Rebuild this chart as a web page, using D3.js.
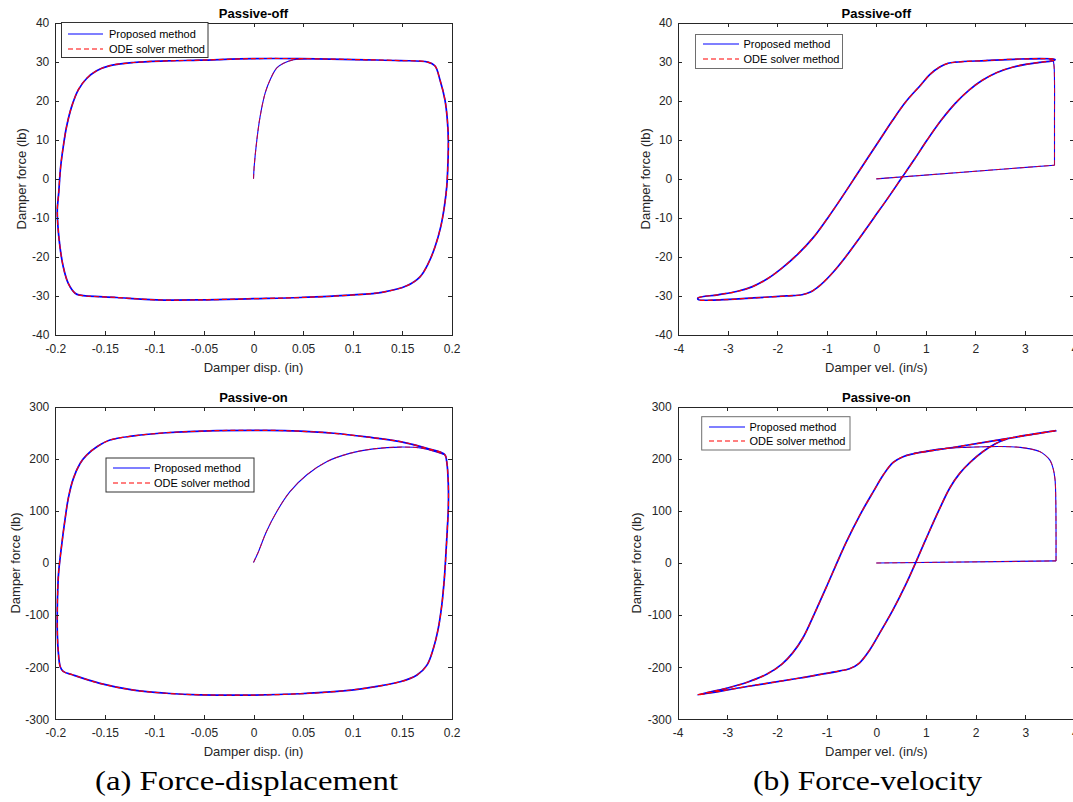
<!DOCTYPE html>
<html>
<head>
<meta charset="utf-8">
<script src="https://cdn.jsdelivr.net/npm/d3@7"></script>
<style>
  html, body { margin: 0; padding: 0; background: #fff; }
  svg { display: block; }
  .tick text { font-family: "Liberation Sans", Arial, sans-serif; font-size: 12px; fill: #262626; }
  .lbl { font-family: "Liberation Sans", Arial, sans-serif; font-size: 13px; fill: #262626; }
  .ttl { font-family: "Liberation Sans", Arial, sans-serif; font-size: 13px; font-weight: bold; fill: #000; }
  .leg { font-family: "Liberation Sans", Arial, sans-serif; font-size: 11px; fill: #000; }
  .cap { font-family: "Liberation Serif", "Times New Roman", serif; font-size: 28px; fill: #000; }
</style>
</head>
<body>
<svg id="fig" width="1073" height="802"></svg>
<script>
// ---- tick values ----
const dispTicks = [-0.2, -0.15, -0.1, -0.05, 0, 0.05, 0.1, 0.15, 0.2];
const velTicks = [-4, -3, -2, -1, 0, 1, 2, 3, 4];
const offForceTicks = [-40, -30, -20, -10, 0, 10, 20, 30, 40];
const onForceTicks = [-300, -200, -100, 0, 100, 200, 300];

// ---- series names ----
const seriesNames = ["Proposed method", "ODE solver method"];

// ---- Passive-off, force vs displacement (in, lb) ----
const offDispLoop = [
  [-0.198,-8],[-0.1966,-3.7],[-0.1946,3.1],[-0.192,8.2],[-0.1886,13.4],[-0.1835,18.5],
  [-0.1768,22.8],[-0.1684,25.7],[-0.1583,27.7],[-0.1448,29.0],[-0.121,29.8],[-0.088,30.2],
  [-0.054,30.4],[0,30.8],[0.047,30.8],[0.114,30.5],[0.148,30.3],[0.176,29.9],[0.1832,28.9],
  [0.1882,25.3],[0.1932,20.2],[0.1956,15.1],[0.1966,9.9],[0.1963,4.8],[0.195,-2.0],
  [0.1926,-7.1],[0.1889,-12.3],[0.1832,-17.4],[0.1765,-21.6],[0.168,-25.1],[0.1546,-27.4],
  [0.131,-29.0],[0.097,-29.8],[0.047,-30.4],[0,-30.7],[-0.054,-31.0],[-0.098,-31.0],
  [-0.138,-30.4],[-0.175,-29.8],[-0.180,-29.3],[-0.1869,-26.8],[-0.192,-22.5],
  [-0.1953,-17.4],[-0.1973,-12.3]
];
const offDispRamp = [];
const offDispRise = [
  [0,0],[0.0007,3.2],[0.0034,10],[0.0067,16],[0.0118,22],[0.0168,25.4],[0.0235,28.4],
  [0.0303,29.6],[0.0404,30.5],[0.0538,30.8]
];

// ---- Passive-off, force vs velocity (in/s, lb) ----
const offVelLoop = [
  [3.61,30.6],[2.9,30.7],[2.2,30.3],[1.6,29.9],[1.45,29.6],[1.29,28.7],[1.08,26.7],
  [0.88,23.8],[0.6,19.8],[0.33,15],[0.07,10],[-0.19,5],[-0.45,0],[-0.71,-5],[-0.98,-10],
  [-1.27,-15],[-1.58,-19.2],[-1.9,-22.8],[-2.2,-25.6],[-2.5,-27.6],[-2.8,-28.8],[-3.2,-29.7],
  [-3.6,-30.5],[-3.6,-30.9],[-3.16,-31.0],[-2.48,-30.5],[-1.81,-30.0],[-1.5,-29.7],
  [-1.33,-29.0],[-1.13,-27.2],[-0.9,-24.3],[-0.62,-20],[-0.33,-15],[-0.05,-10],[0.23,-5],
  [0.5,0],[0.77,5],[1.03,10],[1.31,15],[1.6,19.4],[1.88,22.8],[2.15,25.3],[2.45,27.3],
  [2.75,28.6],[3.05,29.4],[3.35,29.9],[3.6,30.4]
];
const offVelRamp = [[0,0],[3.6,3.5]];
const offVelRise = [[3.6,3.5],[3.6,15],[3.6,25],[3.59,29],[3.57,30.2],[3.5,30.6]];

// ---- Passive-on, force vs displacement (in, lb) ----
const onDispLoop = [
  [-0.198,-90],[-0.1975,-50],[-0.1966,-17],[-0.1936,34],[-0.190,86],[-0.1869,124],
  [-0.1818,162],[-0.175,191],[-0.1684,207],[-0.158,223],[-0.1448,236],[-0.121,244],
  [-0.088,250],[-0.037,254],[0.013,254.6],[0.047,253],[0.081,249],[0.114,242],[0.148,233],
  [0.175,220],[0.193,208],[0.195,194],[0.1966,150],[0.1966,105],[0.1956,66],[0.1943,22],
  [0.1926,-29],[0.19,-81],[0.1865,-125],[0.1815,-164],[0.175,-196],[0.165,-215],[0.148,-228],
  [0.114,-240],[0.081,-247],[0.047,-251],[0,-253.5],[-0.054,-253],[-0.088,-250],
  [-0.121,-244],[-0.155,-231],[-0.182,-215],[-0.192,-208],[-0.195,-199],[-0.197,-170],
  [-0.198,-130]
];
const onDispRamp = [];
const onDispRise = [
  [0,1],[0.005,21.7],[0.013,60],[0.0234,98.5],[0.0368,137],[0.0536,169],[0.0738,194.5],
  [0.097,210.4],[0.121,219],[0.148,222.5],[0.171,220],[0.193,208]
];

// ---- Passive-on, force vs velocity (in/s, lb) ----
const onVelLoop = [
  [3.62,254],[2.6,238.3],[1.6,222.7],[0.72,209],[0.54,204],[0.34,193],[0.14,169],[-0.06,137],
  [-0.33,92],[-0.6,41],[-0.78,3],[-1.0,-45],[-1.25,-98],[-1.48,-144],[-1.68,-172],
  [-1.9,-194],[-2.2,-213],[-2.6,-229],[-3.0,-240],[-3.6,-253],[-2.6,-237],[-1.6,-221.7],
  [-0.73,-207],[-0.54,-203],[-0.34,-192],[-0.14,-168],[0.06,-136],[0.33,-91],[0.6,-40],
  [0.78,-2],[1.0,46],[1.25,99],[1.48,144],[1.68,172],[1.9,194],[2.15,214],[2.4,229],
  [2.65,238.5],[3.0,245]
];
const onVelRamp = [[0,0],[3.62,4]];
const onVelRise = [
  [3.62,4],[3.62,60],[3.615,120],[3.6,160],[3.56,182],[3.5,197],[3.4,207],[3.3,213.5],
  [3.1,219],[2.9,222],[2.5,223.5],[2.2,223.2],[1.8,222],[1.4,220],[1.0,215],[0.75,210.5]
];

// ---- panel layout (pixels) ----
const panels = [
  { px: [55.3, 451.7], py: [335, 22.7], xd: [-0.2, 0.2], yd: [-40, 40],
    xt: dispTicks, yt: offForceTicks, title: "Passive-off", xlabel: "Damper disp. (in)",
    loop: offDispLoop, ramp: offDispRamp, rise: offDispRise, ylabX: 26,
    leg: { x: 61.5, y: 22.5, w: 146.5, h: 35, l1: 68, l2: 103, tx: 109, r1: 34, r2: 49, edge: "#333" } },
  { px: [678.3, 1074.3], py: [335, 22.7], xd: [-4, 4], yd: [-40, 40],
    xt: velTicks, yt: offForceTicks, title: "Passive-off", xlabel: "Damper vel. (in/s)",
    loop: offVelLoop, ramp: offVelRamp, rise: offVelRise, ylabX: 650,
    leg: { x: 695.5, y: 34.5, w: 147, h: 34, l1: 703, l2: 739, tx: 743.5, r1: 44, r2: 59, edge: "#6e6e6e" } },
  { px: [55.3, 451.7], py: [719.3, 406.7], xd: [-0.2, 0.2], yd: [-300, 300],
    xt: dispTicks, yt: onForceTicks, title: "Passive-on", xlabel: "Damper disp. (in)",
    loop: onDispLoop, ramp: onDispRamp, rise: onDispRise, ylabX: 20,
    leg: { x: 106, y: 458, w: 148, h: 34, l1: 113, l2: 150, tx: 154, r1: 468, r2: 483, edge: "#333" } },
  { px: [677.7, 1074.9], py: [719.3, 406.7], xd: [-4, 4], yd: [-300, 300],
    xt: velTicks, yt: onForceTicks, title: "Passive-on", xlabel: "Damper vel. (in/s)",
    loop: onVelLoop, ramp: onVelRamp, rise: onVelRise, ylabX: 640.5,
    leg: { x: 701.7, y: 416.7, w: 148.3, h: 33.3, l1: 709, l2: 745, tx: 749.5, r1: 427, r2: 441, edge: "#6e6e6e" } }
];

const svg = d3.select("#fig");
const axisColor = "#262626";
const blue = "#0000ff", red = "#ff0000";

panels.forEach(p => {
  const x = d3.scaleLinear().domain(p.xd).range(p.px);
  const y = d3.scaleLinear().domain(p.yd).range(p.py);
  const g = svg.append("g");

  const loopGen = d3.line().x(d => x(d[0])).y(d => y(d[1])).curve(d3.curveCatmullRomClosed.alpha(0.5));
  const openGen = d3.line().x(d => x(d[0])).y(d => y(d[1])).curve(d3.curveCatmullRom.alpha(0.5));
  const straightGen = d3.line().x(d => x(d[0])).y(d => y(d[1]));

  // one pass per method: solid blue first, dashed red drawn over it
  const styles = [
    { color: blue, w: 1.7, wt: 1.1, dash: null, op: 1 },
    { color: red, w: 1.2, wt: 0.9, dash: "5,3", op: 0.85 }
  ];
  styles.forEach(s => {
    g.append("path").attr("d", loopGen(p.loop)).attr("fill", "none")
      .attr("stroke", s.color).attr("stroke-width", s.w).attr("stroke-dasharray", s.dash);
    if (p.ramp.length) {
      g.append("path").attr("d", straightGen(p.ramp)).attr("fill", "none")
        .attr("stroke", s.color).attr("stroke-width", s.wt).attr("stroke-dasharray", s.dash)
        .attr("stroke-opacity", s.op);
    }
    g.append("path").attr("d", openGen(p.rise)).attr("fill", "none")
      .attr("stroke", s.color).attr("stroke-width", s.wt).attr("stroke-dasharray", s.dash)
      .attr("stroke-opacity", s.op);
  });

  // axes: box with inward ticks on all four sides
  const xb = g.append("g").attr("transform", `translate(0,${p.py[0]})`)
    .call(d3.axisBottom(x).tickValues(p.xt).tickFormat(d => String(d))
      .tickSizeInner(-4).tickSizeOuter(0).tickPadding(9));
  const xtop = g.append("g").attr("transform", `translate(0,${p.py[1]})`)
    .call(d3.axisTop(x).tickValues(p.xt).tickFormat("")
      .tickSizeInner(-4).tickSizeOuter(0));
  const yl = g.append("g").attr("transform", `translate(${p.px[0]},0)`)
    .call(d3.axisLeft(y).tickValues(p.yt).tickFormat(d => String(d))
      .tickSizeInner(-4).tickSizeOuter(0).tickPadding(6));
  const yr = g.append("g").attr("transform", `translate(${p.px[1]},0)`)
    .call(d3.axisRight(y).tickValues(p.yt).tickFormat("")
      .tickSizeInner(-4).tickSizeOuter(0));
  [xb, xtop, yl, yr].forEach(a => {
    a.attr("font-family", null).attr("font-size", null);
    a.selectAll("path, line").attr("stroke", axisColor).attr("stroke-width", 1)
      .attr("shape-rendering", "crispEdges");
    a.selectAll("text").attr("fill", axisColor);
  });

  // title and axis labels
  const cx = (p.px[0] + p.px[1]) / 2, cy = (p.py[0] + p.py[1]) / 2;
  g.append("text").attr("class", "ttl").attr("x", cx).attr("y", p.py[1] - 5)
    .attr("text-anchor", "middle").text(p.title);
  g.append("text").attr("class", "lbl").attr("x", cx).attr("y", p.py[0] + 37)
    .attr("text-anchor", "middle").text(p.xlabel);
  g.append("text").attr("class", "lbl").attr("text-anchor", "middle")
    .attr("transform", `translate(${p.ylabX},${cy}) rotate(-90)`).text("Damper force (lb)");

  // legend
  const L = p.leg;
  const lg = g.append("g");
  lg.append("rect").attr("x", L.x).attr("y", L.y).attr("width", L.w).attr("height", L.h)
    .attr("fill", "#fff").attr("stroke", L.edge).attr("stroke-width", 1);
  const rows = [
    { y: L.r1, color: blue, dash: null },
    { y: L.r2, color: red, dash: "5,3" }
  ];
  rows.forEach((r, i) => {
    lg.append("line").attr("x1", L.l1).attr("x2", L.l2).attr("y1", r.y).attr("y2", r.y)
      .attr("stroke", r.color).attr("stroke-width", 1.1).attr("stroke-dasharray", r.dash);
    lg.append("text").attr("class", "leg").attr("x", L.tx).attr("y", r.y + 4).text(seriesNames[i]);
  });
});

// sub-figure captions
svg.append("text").attr("class", "cap").attr("x", 95).attr("y", 790)
  .attr("textLength", 303).attr("lengthAdjust", "spacingAndGlyphs").text("(a) Force-displacement");
svg.append("text").attr("class", "cap").attr("x", 753).attr("y", 790)
  .attr("textLength", 229).attr("lengthAdjust", "spacingAndGlyphs").text("(b) Force-velocity");
</script>
</body>
</html>
